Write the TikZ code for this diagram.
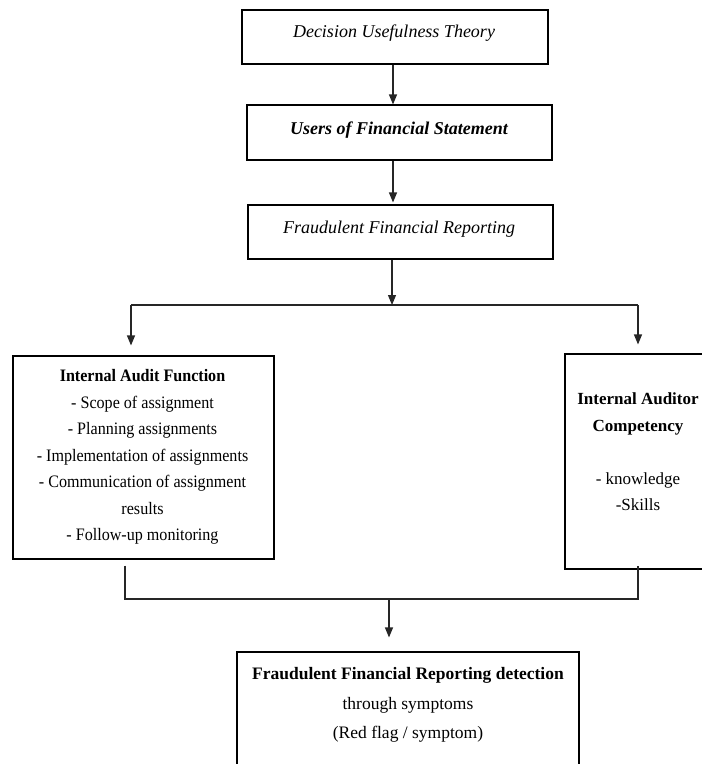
\documentclass[tikz,border=0pt]{standalone}
\usepackage{fontspec}
\setmainfont{Liberation Serif}
\newfontfamily\narrowserif[FakeStretch=0.92]{Liberation Serif}
\usetikzlibrary{arrows.meta,calc}
\begin{document}
\begin{tikzpicture}[x=1pt,y=-1pt,
  box/.style={draw=black,line width=1.1pt,inner sep=0pt},
  conn/.style={draw=black!85,line width=1.1pt},
  arr/.style={conn,-{Triangle[length=10pt,width=8pt]}},
  txt/.style={inner sep=0pt,align=center,font=\fontsize{17}{26.5}\selectfont}
]
\useasboundingbox (0,0) rectangle (702,764);
\clip (0,0) rectangle (702,764);
% boxes
\node[box,minimum width=306pt,minimum height=54pt] (b1) at (395,37) {};
\node[box,minimum width=305pt,minimum height=55pt] (b2) at (399.5,132.5) {};
\node[box,minimum width=305pt,minimum height=54pt] (b3) at (400.5,232) {};
\node[box,minimum width=261pt,minimum height=203pt] (L) at (143.5,457.5) {};
\node[box,minimum width=146pt,minimum height=215pt] (R) at (638,461.5) {};
\node[box,minimum width=342pt,minimum height=148pt] (B) at (408,726) {};
% texts
\node[txt,font=\fontsize{18}{26.5}\selectfont] (t1) at (394,33) {\itshape Decision Usefulness Theory};
\node[txt,font=\fontsize{18}{26.5}\selectfont] (t2) at (399,130) {\bfseries\itshape Users of Financial Statement};
\node[txt,font=\fontsize{18}{26.5}\selectfont] (t3) at (399,229) {\itshape Fraudulent Financial Reporting};
\node[txt,font=\narrowserif\fontsize{17.5}{26.5}\selectfont] (tL) at (142.5,457) {\textbf{Internal Audit Function}\\- Scope of assignment\\- Planning assignments\\- Implementation of assignments\\- Communication of assignment\\results\\- Follow-up monitoring};
\node[txt] (tR) at (638,452) {\textbf{Internal Auditor}\\\textbf{Competency}\\\mbox{}\\- knowledge\\-Skills};
\node[txt,font=\fontsize{17.5}{29.5}\selectfont] (tB) at (408,705) {\textbf{Fraudulent Financial Reporting detection}\\through symptoms\\(Red flag / symptom)};
% connector points
\coordinate (cA) at (393,0);
\coordinate (j1) at (392,305);
\coordinate (jl) at (131,305);
\coordinate (jr) at (638,305);
\coordinate (kl) at (125,599);
\coordinate (kr) at (638,599);
\coordinate (km) at (389,599);
% connectors
\draw[arr] (b1.south -| cA) -- (b2.north -| cA);
\draw[arr] (b2.south -| cA) -- ([yshift=2pt]b3.north -| cA);
\draw[arr] (b3.south -| j1) -- (j1);
\draw[conn] (jl) -- (jr);
\draw[arr,shorten >=10pt] (jl) -- (L.north -| jl);
\draw[arr,shorten >=9pt] (jr) -- (R.north -| jr);
\draw[conn] ([yshift=-6pt]L.south -| kl) -- (kl) -- (kr) -- ([yshift=4pt]R.south -| kr);
\draw[arr,shorten >=14pt] (km) -- (B.north -| km);
\end{tikzpicture}
\end{document}
